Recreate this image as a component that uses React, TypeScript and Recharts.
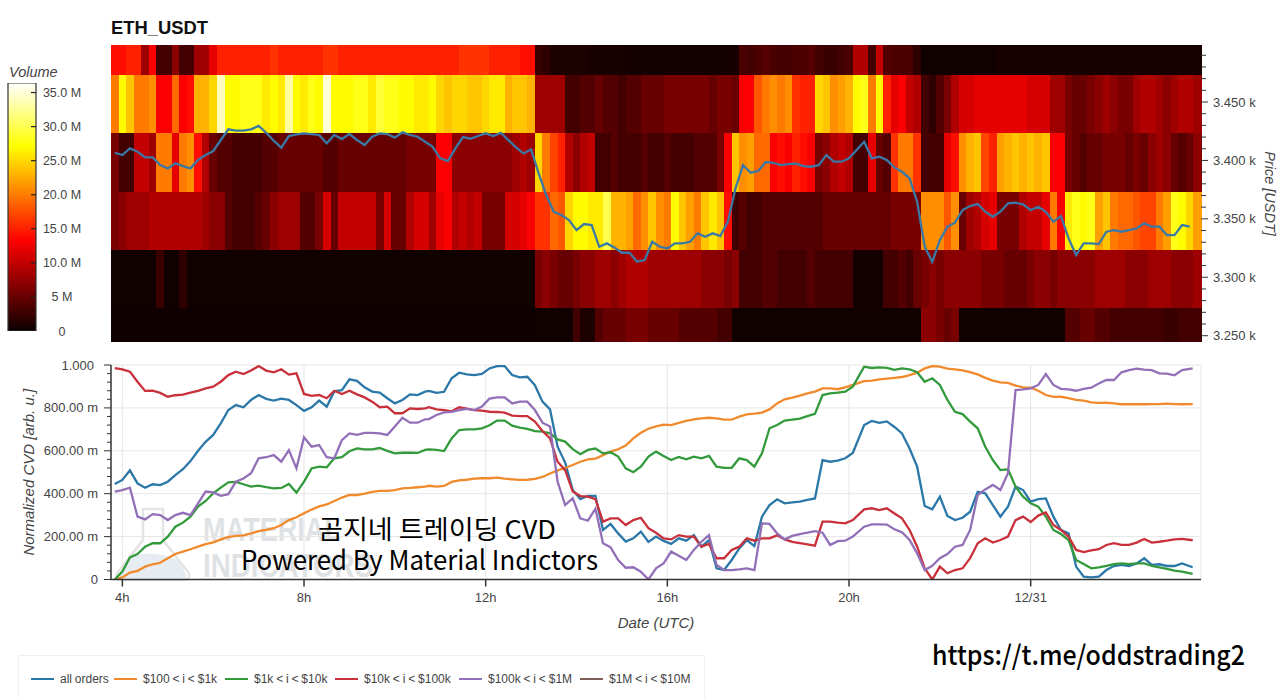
import React from "react";
import {
  ComposedChart, LineChart, BarChart, Bar, Line, XAxis, YAxis, CartesianGrid, Legend,
} from "recharts";

const FONT = '"Liberation Sans", Arial, sans-serif';
const TEXT = "#444";

/* ---- heat map: traded volume (millions) per 10-minute column, one list per price bin, top bin first ---- */
const vol0 = [
  14,14,15,15,8,13,3,3,7,3,3,8,
  8,12,15,15,15,15,15,15,15,16,15,15,
  15,15,15,15,16,16,15,15,15,15,15,15,
  15,15,15,15,15,15,15,15,15,15,16,16,
  16,16,15,15,15,15,14,14,2.5,2,1,1,
  1,1,1,.8,.8,.8,.8,.8,.5,.5,.5,.5,
  .5,.5,.5,.5,.5,.5,.5,.5,.5,.5,.8,3.5,
  3,3.5,4,3.5,3,3,3.5,3.5,4,3,2.5,2.5,
  3,3.5,9,9,3,10,4,3.5,3.5,3.5,2,.3,
  .3,.3,.3,.3,.3,.3,.3,.3,.3,.7,.7,.7,
  .7,.7,.7,.7,.7,.7,.7,.7,.7,.7,.7,.7,
  .6,.6,.6,.6,.6,.6,.6,.6,.6,.6,.6,.6,
];
const vol1 = [
  20,27,24,20,20,21,13,13,19,13,14,23,
  23,25,34,27,27,28,28,28,26,27,26,33,
  27,26,28,27,35,27,27,27,28,28,26,29,
  28,28,27,27,26,26,27,25,24,25,25,24,
  24,25,26,26,23,24,24,23,8,8,8,8,
  3,3,4,4,5,4,4,3,4,4,5,5,
  5,6,6,6,6,6,6,5,6,6,5,13,
  13,18,20,21,20,21,16,15,15,25,24,21,
  22,23,27,28,20,27,15,12,13,10,9,3,
  2,4,6,9,11,11,12,12,12,12,12,12,
  12,11,11,11,8,8,6,5,5,6,7,8,
  7,6,6,8,9,9,8,7,8,9,9,8,
];
const vol2 = [
  6,3,3,10,10,8,20,20,12,20,21,14,
  9,5,4,4,3,3,3,3,4,4,5,5,
  5,5,5,5,4,4,5,5,5,5,5,5,
  5,5,5,6,6,6,6,13,13,7,7,7,
  7,7,7,7,7,8,9,8,25,20,17,15,
  9,7,9,10,3,3,4,3,3,3,4,3,
  3,4,3,3,3,4,4,4,6,13,24,21,
  22,19,19,13,14,13,15,14,13,6,7,9,
  10,9,3,3,12,5,4,16,20,20,16,3,
  3,3,12,14,21,23,24,17,15,22,23,24,
  23,24,23,24,13,13,6,5,4,5,5,6,
  6,6,5,6,5,7,8,7,5,4,5,7,
];
const vol3 = [
  6,7,8,8,8,9,9,9,9,9,9,9,
  8,7,7,4,3,3,3,4,5,7,8,8,
  8,4,4,6,11,5,10,10,10,10,10,6,
  11,5,5,9,11,11,8,12,13,9,10,9,
  10,6,6,6,11,11,12,13,16,16,19,18,
  25,27,27,26,26,30,23,23,22,19,21,24,
  21,20,27,24,22,20,24,26,24,14,3,4,
  3,3,4,4,4,4,4,4,4,4,5,5,
  5,5,5,5,5,5,5,6,6,6,6,21,
  21,21,18,21,5,8,9,11,12,6,6,6,
  9,10,10,12,20,13,26,28,27,28,22,24,
  20,19,19,18,17,17,20,22,28,27,25,22,
];
const vol4 = [
  .3,.3,.3,.3,.3,.3,2.5,.3,.3,2,.3,.3,
  .3,.3,.3,.3,.3,.3,.3,.3,.3,.3,.3,.3,
  .3,.3,.3,.3,.3,.3,.3,.3,.3,.3,.3,.3,
  .3,.3,.3,.3,.3,.3,.3,.3,.3,.3,.3,.3,
  .3,.3,.3,.3,.3,.3,.3,.3,6,7,6,5,
  5,6,7,7,8,8,7,8,9,9,9,8,
  8,8,8,8,8,8,7,7,7,6,7,3,
  3,3,4,4,3,3,3,3,4,3,3,3,
  3,3,.5,.5,.5,.5,3,3,4,3,5,6,
  7,6,7,7,7,7,7,6,6,6,5,5,
  5,6,7,7,6,7,7,7,7,7,8,8,
  8,8,7,7,7,8,8,8,7,7,7,8,
];
const vol5 = [
  .2,.2,.2,.2,.2,.2,.2,.2,.2,.2,.2,.2,
  .2,.2,.2,.2,.2,.2,.2,.2,.2,.2,.2,.2,
  .2,.2,.2,.2,.2,.2,.2,.2,.2,.2,.2,.2,
  .2,.2,.2,.2,.2,.2,.2,.2,.2,.2,.2,.2,
  .2,.2,.2,.2,.2,.2,.2,.2,.3,.3,.3,.3,
  .3,3,1,1,4,5,5,5,6,6,6,5,
  5,5,5,4,4,4,4,4,3,3,.3,.3,
  .3,.3,.3,.3,.3,.3,.3,.3,.3,.3,.3,.3,
  .3,.3,.3,.3,.3,.3,.3,.3,.3,.3,.3,7,
  7,6,5,6,.3,.3,.3,.3,.3,.3,.3,.3,
  .3,.3,.3,.3,.3,.3,4,4,5,5,4,4,
  3,3,3,3,3,3,3,2.5,2.5,3,3,3,
];
const volumes = [vol0, vol1, vol2, vol3, vol4, vol5];
/* price span of every bin, top bin first; the bins stack up from 3244.6 */
const binSpans = [25.7, 49.7, 50.5, 49.7, 49.7, 28.9];

const price = [
  3406.6,3404.6,3410.3,3407.5,3402.6,3402.6,3396,3393.2,3397.5,3395.2,3393.2,3400.4,
  3404.6,3408,3417.5,3426.6,3425.5,3425.5,3426.6,3429.5,3423.7,3416.9,3410.9,3420.9,
  3422.3,3423.2,3422.6,3421.8,3414.6,3421.8,3418.3,3422.6,3417.5,3413.2,3420.3,3423.2,
  3422.6,3419.5,3424,3421.8,3420.3,3416,3411.7,3401.8,3399.5,3410.3,3420,3418.6,
  3420.9,3423.2,3420.9,3423.7,3417.4,3411.2,3406,3409.5,3388.9,3370.4,3356,3353.3,
  3349,3340.4,3345.6,3344.7,3326.1,3329,3325.6,3321,3321,3313.3,3314.7,3330.4,
  3326.1,3324.7,3329,3329,3330.4,3337.6,3334.7,3337.6,3335.3,3347.6,3376.1,3396,
  3389.5,3390.9,3398.6,3398,3396,3396.9,3397.2,3395.2,3394.6,3396,3404.6,3398.9,
  3398.9,3401.8,3408.9,3416,3401.8,3403.2,3400.3,3394,3390.3,3384.6,3364.7,3326.1,
  3313.3,3331.8,3343.3,3346.7,3357.5,3361,3362.7,3356.1,3351.8,3356.1,3363.2,3363.8,
  3362.4,3357.5,3360.4,3356.1,3347.6,3352.4,3333.3,3319,3329,3329,3328.4,3339,
  3340.4,3339,3340.4,3341.8,3346.1,3343.3,3343.3,3336.1,3336.1,3344.7,3343.3,null,
];

/* ---- normalized CVD series ---- */
const allOrders = [
  .445,.464,.509,.448,.428,.444,.44,.456,.487,.514,.552,.6,
  .642,.674,.728,.79,.813,.803,.837,.86,.842,.834,.843,.837,
  .813,.786,.803,.834,.806,.877,.883,.933,.926,.896,.876,.871,
  .845,.821,.837,.863,.86,.876,.879,.87,.875,.938,.964,.956,
  .953,.958,.984,.995,.995,.953,.942,.945,.906,.829,.793,.619,
  .545,.417,.375,.39,.39,.231,.259,.215,.177,.192,.223,.175,
  .2,.18,.166,.192,.181,.207,.153,.184,.052,.044,.091,.145,
  .184,.156,.293,.347,.374,.355,.36,.363,.371,.378,.557,.549,
  .554,.565,.59,.72,.739,.73,.737,.711,.681,.611,.526,.343,
  .327,.386,.296,.277,.288,.316,.409,.402,.347,.293,.34,.433,
  .417,.363,.375,.378,.293,.231,.215,.06,.013,.01,.013,.044,
  .063,.068,.063,.075,.099,.068,.071,.063,.063,.075,.057,null,
];
const from100 = [
  0,.01,.032,.04,.06,.071,.078,.099,.119,.13,.141,.153,
  .165,.173,.187,.198,.203,.206,.215,.225,.231,.239,.254,.277,
  .29,.309,.326,.341,.35,.366,.382,.394,.394,.4,.408,.413,
  .413,.417,.425,.427,.43,.433,.437,.433,.436,.455,.462,.465,
  .47,.472,.472,.475,.47,.467,.464,.465,.469,.478,.494,.509,
  .52,.534,.549,.56,.563,.58,.596,.607,.624,.658,.684,.703,
  .714,.722,.72,.73,.739,.747,.751,.754,.751,.745,.745,.759,
  .77,.773,.778,.793,.821,.84,.848,.857,.868,.876,.891,.891,
  .887,.896,.907,.925,.927,.933,.936,.94,.944,.953,.964,.984,
  .995,.992,.983,.98,.975,.967,.956,.94,.927,.919,.917,.904,
  .896,.894,.88,.86,.851,.852,.846,.837,.834,.826,.823,.824,
  .821,.817,.817,.818,.817,.818,.818,.82,.818,.817,.818,null,
];
const from1k = [
  0,.037,.103,.119,.153,.169,.169,.2,.246,.265,.293,.34,
  .366,.402,.428,.453,.455,.444,.433,.438,.431,.425,.427,.445,
  .405,.456,.518,.526,.523,.565,.57,.598,.611,.607,.607,.613,
  .6,.588,.591,.591,.59,.604,.607,.604,.599,.658,.697,.7,
  .7,.705,.719,.741,.741,.717,.708,.702,.692,.689,.681,.653,
  .643,.608,.584,.604,.611,.588,.593,.573,.518,.5,.526,.573,
  .596,.576,.557,.571,.56,.573,.565,.576,.526,.52,.521,.565,
  .557,.526,.588,.705,.72,.741,.745,.75,.762,.772,.86,.868,
  .871,.876,.899,.992,.986,.989,.987,.977,.984,.98,.966,.922,
  .938,.907,.837,.782,.771,.736,.705,.619,.557,.51,.514,.433,
  .386,.355,.34,.293,.231,.212,.184,.091,.072,.052,.057,.063,
  .072,.075,.072,.075,.075,.063,.057,.05,.041,.037,.026,null,
];
const from10k = [
  .985,.98,.969,.922,.879,.88,.87,.852,.859,.862,.871,.879,
  .891,.899,.922,.953,.969,.958,.974,.995,.974,.966,.98,.955,
  .961,.865,.856,.86,.845,.88,.865,.88,.863,.849,.829,.803,
  .806,.775,.775,.798,.795,.798,.803,.793,.79,.784,.803,.797,
  .79,.787,.782,.781,.778,.764,.762,.762,.736,.692,.658,.549,
  .51,.41,.389,.386,.375,.27,.285,.285,.254,.277,.288,.239,
  .218,.192,.187,.207,.2,.2,.153,.166,.099,.099,.138,.153,
  .192,.181,.192,.192,.206,.187,.175,.17,.164,.158,.27,.27,
  .265,.262,.277,.327,.332,.324,.332,.308,.285,.231,.153,.052,
  0,.06,.029,.044,.052,.099,.169,.192,.172,.184,.2,.277,
  .293,.268,.298,.313,.254,.231,.2,.138,.128,.136,.141,.161,
  .169,.161,.161,.172,.189,.172,.176,.181,.187,.189,.183,null,
];
const from100k = [
  .41,.417,.428,.293,.28,.305,.3,.277,.3,.311,.3,.355,
  .41,.406,.39,.398,.456,.471,.495,.565,.57,.58,.549,.603,
  .518,.663,.619,.627,.57,.565,.65,.681,.674,.684,.684,.681,
  .674,.713,.754,.731,.731,.747,.748,.767,.779,.781,.79,.795,
  .79,.806,.843,.849,.849,.821,.829,.829,.79,.731,.713,.456,
  .347,.379,.285,.274,.33,.169,.15,.091,.055,.057,.036,0,
  .052,.075,.13,.111,.091,.138,.176,.207,.068,.044,.044,.047,
  .052,.044,.262,.259,.215,.187,.203,.212,.218,.225,.218,.161,
  .179,.181,.2,.246,.257,.257,.256,.234,.22,.184,.122,.044,
  .064,.099,.119,.153,.161,.231,.394,.42,.441,.417,.495,.883,
  .886,.891,.907,.958,.907,.889,.886,.88,.889,.894,.914,.93,
  .93,.966,.976,.983,.978,.976,.961,.96,.952,.976,.984,null,
];
const from1M: (number | null)[] = [];

const seriesNames = ["all orders", "$100 < i < $1k", "$1k < i < $10k", "$10k < i < $100k", "$100k < i < $1M", "$1M < i < $10M"];
const seriesColors = ["#2b78a8", "#f08a2c", "#339a3c", "#c8303a", "#9270b8", "#7d5f58"];
const seriesValues = [allOrders, from100, from1k, from10k, from100k, from1M];

const timeCols = [1, 25, 49, 73, 97, 121];
const timeLabels = ["4h", "8h", "12h", "16h", "20h", "12/31"];
const cvdMajor = [0, .2, .4, .6, .8, 1];
const cvdLabels = ["0", "200.00 m", "400.00 m", "600.00 m", "800.00 m", "1.000"];
const cvdTicks = [0,.04,.08,.12,.16,.2,.24,.28,.32,.36,.4,.44,.48,.52,.56,.6,.64,.68,.72,.76,.8,.84,.88,.92,.96,1];
const priceTicks = [3250,3260,3270,3280,3290,3300,3310,3320,3330,3340,3350,3360,3370,3380,3390,3400,3410,3420,3430,3440,3450,3460,3470,3480,3490];
const barTicks = [0, 5, 10, 15, 20, 25, 30, 35];
const barLabels = ["0", "5 M", "10.0 M", "15.0 M", "20.0 M", "25.0 M", "30.0 M", "35.0 M"];
const VOL_MAX = 36.4;

function clamp(v: number) { return Math.max(0, Math.min(1, v)); }
function hot(v: number) {
  const t = clamp(v / VOL_MAX);
  const r = clamp(0.0416 + (t / 0.365) * 0.9584);
  const g = clamp((t - 0.365) / 0.381);
  const b = clamp((t - 0.746) / 0.254);
  return `rgb(${Math.round(r * 255)},${Math.round(g * 255)},${Math.round(b * 255)})`;
}
/* colour bar stops, top (hottest) to bottom */
const gradientStops = [1, .9, .82, .746, .65, .55, .45, .365, .3, .2, .1, 0];

/* table for the heat map chart */
const heatData = price.map((p, i) => {
  const row: Record<string, number | string | null> = { col: String(i), price: p };
  volumes.forEach((list, b) => {
    row[`v${b}`] = list[i];
    row[`s${b}`] = binSpans[b];
  });
  return row;
});

/* sample position in column units */
const samplePos = allOrders.map((_, i) => (i === 142 ? 142.4 : i >= 42 && i <= 98 ? i - 0.5 : i));
const cvdData = samplePos.map((x, i) => {
  const row: Record<string, number | null | undefined> = { x };
  seriesValues.forEach((list, s) => { row[`c${s}`] = list[i]; });
  return row;
});

const binOrder = [5, 4, 3, 2, 1, 0];

function HeatCell(props: any) {
  const { x, y, width, height, payload, bin } = props;
  return (
    <rect x={x} y={y} width={width + 0.5} height={height} fill={hot(payload[`v${bin}`])} shapeRendering="crispEdges" />
  );
}

function PriceTick(props: any) {
  const { y, payload } = props;
  const major = payload.value % 50 === 0;
  const x0 = 1201;
  return (
    <g>
      <line x1={x0} x2={x0 + (major ? 7 : 5)} y1={y} y2={y} stroke="#333" strokeWidth={1} />
      {major && (
        <text x={1213} y={y + 4.5} fontSize={13} fill={TEXT} fontFamily={FONT}>
          {(payload.value / 1000).toFixed(3)} k
        </text>
      )}
    </g>
  );
}

function CvdTick(props: any) {
  const { y, payload } = props;
  const idx = cvdMajor.findIndex((m) => Math.abs(m - payload.value) < 1e-6);
  const major = idx >= 0;
  const x0 = 111;
  const top = idx === 5;
  return (
    <g>
      <line x1={x0 - (major ? 7 : 4)} x2={x0} y1={y} y2={y} stroke="#333" strokeWidth={1} />
      {major && (
        <text x={top ? 94 : 98} y={y + 4.5} textAnchor="end" fontSize={13} fill={TEXT} fontFamily={FONT}>
          {cvdLabels[idx]}
        </text>
      )}
    </g>
  );
}

function BarTick(props: any) {
  const { y, payload } = props;
  const idx = barTicks.indexOf(payload.value);
  return (
    <g>
      {idx > 0 && <line x1={31} x2={36} y1={y} y2={y} stroke="#222" strokeWidth={1.2} />}
      <text x={62} y={y + 4.5} textAnchor="middle" fontSize={12.5} fill={TEXT} fontFamily={FONT}>
        {barLabels[idx]}
      </text>
    </g>
  );
}

const legendLefts = [12, 95, 206, 316, 440, 561];

function CvdLegend(props: any) {
  const { payload } = props;
  return (
    <div style={{ position: "absolute", left: 0, top: 0, width: 687, height: 46, boxSizing: "border-box", border: "1px solid #efefef", background: "#fff" }}>
      {(payload || []).map((item: any, i: number) => (
        <div key={item.value} style={{ position: "absolute", left: legendLefts[i], top: 16, whiteSpace: "nowrap", display: "flex", alignItems: "center" }}>
          <span style={{ display: "inline-block", width: 23, height: 2, background: item.color, marginRight: 6 }} />
          <span style={{ fontSize: 12, lineHeight: "14px", color: TEXT, wordSpacing: -0.5 }}>{item.value}</span>
        </div>
      ))}
    </div>
  );
}

function Watermark() {
  return (
    <svg width={1280} height={698} style={{ position: "absolute", left: 0, top: 0 }}>
      <path d="M143 509 L163 509 L163 540 L188 572 Q192 580 182 580 L124 580 Q113 580 118 572 L143 540 Z" fill="#fff" stroke="#e4e4e4" strokeWidth={2.5} />
      <path d="M128 558 Q150 548 178 560 L186 574 Q188 579 180 579 L126 579 Q118 579 121 572 Z" fill="#e6ecf2" />
      <text x={203} y={541} fontSize={34} fontWeight={700} fill="#dfe2e5" fontFamily={FONT} textLength={138} lengthAdjust="spacingAndGlyphs">MATERIAL</text>
      <text x={203} y={577} fontSize={34} fontWeight={700} fill="#dfe2e5" fontFamily={FONT} textLength={170} lengthAdjust="spacingAndGlyphs">INDICATORS</text>
    </svg>
  );
}

function Captions() {
  const ko = '"Noto Sans CJK KR", "Noto Sans", sans-serif';
  return (
    <svg width={1280} height={698} style={{ position: "absolute", left: 0, top: 0, pointerEvents: "none" }}>
      <text x={318} y={539} fontSize={26} fontWeight={400} fill="#000" fontFamily={ko} textLength={238} lengthAdjust="spacingAndGlyphs">곰지네 트레이딩 CVD</text>
      <text x={241} y={570} fontSize={27} fontWeight={400} fill="#000" fontFamily={ko} textLength={357} lengthAdjust="spacingAndGlyphs">Powered By Material Indictors</text>
      <text x={932} y={665} fontSize={27} fontWeight={500} fill="#000" fontFamily={ko} textLength={313} lengthAdjust="spacingAndGlyphs">https://t.me/oddstrading2</text>
    </svg>
  );
}

const italicLabel = { fontStyle: "italic", fontSize: 15, fill: TEXT, fontFamily: FONT, textAnchor: "middle" } as const;

export default function App() {
  return (
    <div style={{ position: "absolute", left: 0, top: 0, width: 1280, height: 698, overflow: "hidden", background: "#fff", fontFamily: FONT }}>
      <Watermark />

      <div style={{ position: "absolute", left: 111, top: 17, fontSize: 18.4, fontWeight: 700, color: "#111", lineHeight: "22px" }}>ETH_USDT</div>
      <div style={{ position: "absolute", left: 9, top: 64, fontSize: 14.5, fontStyle: "italic", color: TEXT, lineHeight: "16px" }}>Volume</div>

      {/* colour bar */}
      <div style={{ position: "absolute", left: 0, top: 60 }}>
        <BarChart width={100} height={280} data={[{ name: "volume", v: VOL_MAX }]} margin={{ top: 23, bottom: 9, left: 8, right: 0 }} barCategoryGap={0}>
          <defs>
            <linearGradient id="hotGrad" x1="0" y1="0" x2="0" y2="1">
              {gradientStops.map((t) => (
                <stop key={t} offset={1 - t} stopColor={hot(t * VOL_MAX)} />
              ))}
            </linearGradient>
          </defs>
          <XAxis dataKey="name" hide />
          <YAxis orientation="right" width={64} domain={[0, VOL_MAX]} ticks={barTicks} interval={0} tick={<BarTick />} tickLine={false} axisLine={false} allowDataOverflow />
          <Bar dataKey="v" fill="url(#hotGrad)" stroke="#333" strokeWidth={1.2} isAnimationActive={false} />
        </BarChart>
      </div>

      {/* heat map with price */}
      <div style={{ position: "absolute", left: 0, top: 0 }}>
        <ComposedChart width={1280} height={350} data={heatData} margin={{ top: 45, bottom: 8, left: 111, right: 0 }} barCategoryGap={0} barGap={0}>
          <XAxis dataKey="col" hide scale="band" />
          <YAxis yAxisId="rows" hide domain={[0, 254.2]} allowDataOverflow />
          <YAxis
            yAxisId="price"
            orientation="right"
            width={79}
            domain={[3244.6, 3498.8]}
            ticks={priceTicks}
            interval={0}
            tick={<PriceTick />}
            tickLine={false}
            axisLine={false}
            allowDataOverflow
            label={{ value: "Price [USDT]", angle: 90, position: "insideRight", offset: 10, style: { ...italicLabel, fontSize: 14.5 } }}
          />
          {binOrder.map((b) => (
            <Bar
              key={b}
              yAxisId="rows"
              dataKey={`s${b}`}
              stackId="heat"
              isAnimationActive={false}
              shape={(p: any) => <HeatCell {...p} bin={b} />}
            />
          ))}
          <Line yAxisId="price" dataKey="price" stroke="#3a78a5" strokeWidth={2.3} dot={false} isAnimationActive={false} />
        </ComposedChart>
      </div>

      {/* normalized CVD */}
      <div style={{ position: "absolute", left: 0, top: 350 }}>
        <LineChart width={1280} height={348} data={cvdData} margin={{ top: 15, bottom: 78.5, left: 0, right: 79 }}>
          <CartesianGrid
            stroke="#e6e6e6"
            horizontalValues={[.2, .4, .6, .8, 1]}
            verticalValues={[1, 25, 49, 73, 97, 121, 143.5]}
          />
          <XAxis
            dataKey="x"
            type="number"
            domain={[-0.5, 143.5]}
            ticks={timeCols}
            interval={0}
            tickFormatter={(v: number) => timeLabels[timeCols.indexOf(v)]}
            stroke="#333"
            strokeWidth={1.5}
            tickSize={7}
            tickMargin={6}
            tick={{ fontSize: 13, fill: TEXT, fontFamily: FONT }}
            height={40}
            allowDataOverflow
            label={{ value: "Date (UTC)", position: "insideBottom", offset: -8, style: italicLabel }}
          />
          <YAxis
            width={111}
            domain={[0, 1]}
            ticks={cvdTicks}
            interval={0}
            tick={<CvdTick />}
            tickLine={false}
            stroke="#333"
            strokeWidth={1.5}
            allowDataOverflow
            label={{ value: "Normalized CVD [arb. u.]", angle: -90, position: "insideLeft", offset: 29, style: italicLabel }}
          />
          {seriesNames.map((name, s) => (
            <Line key={name} dataKey={`c${s}`} name={name} stroke={seriesColors[s]} strokeWidth={2.3} dot={false} isAnimationActive={false} />
          ))}
          <Legend
            content={<CvdLegend />}
            itemSorter={null}
            wrapperStyle={{ position: "absolute", left: 18, top: 305, width: 0, height: 0 }}
          />
        </LineChart>
      </div>

      <Captions />
    </div>
  );
}
